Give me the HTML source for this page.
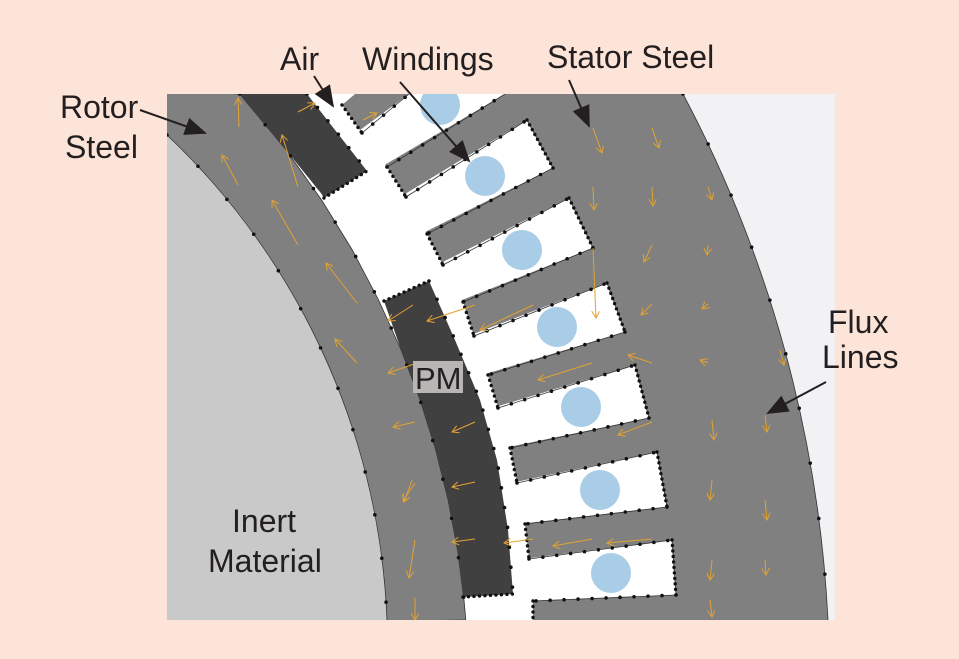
<!DOCTYPE html>
<html><head><meta charset="utf-8"><style>
html,body{margin:0;padding:0;background:#fce4d8;}
svg{display:block;}
text{font-family:"Liberation Sans",Arial,sans-serif;fill:#231f20;}
</style></head><body>
<svg width="959" height="659" viewBox="0 0 959 659" xmlns="http://www.w3.org/2000/svg">
<defs>
<marker id="oa" markerWidth="8" markerHeight="8" refX="7" refY="4" orient="auto" markerUnits="userSpaceOnUse"><path d="M0,0 L7,4 L0,8" fill="none" stroke="#e3a232" stroke-width="1"/></marker>
<marker id="ba" markerWidth="22" markerHeight="18" refX="20" refY="9" orient="auto" markerUnits="userSpaceOnUse"><path d="M0,0 L22,9 L0,18 z" fill="#231f20"/></marker>
<clipPath id="fr"><rect x="167" y="94" width="668" height="526"/></clipPath>
</defs>
<rect width="959" height="659" fill="#fce4d8"/>
<g clip-path="url(#fr)">
<rect x="167" y="94" width="668" height="526" fill="#7f807f"/>
<path d="M683,94 A1255,1255 0 0 1 828,620 L840,620 L840,94 Z" fill="#f2f2f5"/>
<path d="M683,94 A1255,1255 0 0 1 828,620" fill="none" stroke="#333" stroke-width="0.8"/>
<!-- air gap -->
<path d="M239.7,94 L286.1,150 L321.6,200 L352.3,250 L378.6,300 L401.1,350 L420.1,400 L435.7,450 L448.1,500 L457.5,550 L464,600 L465.8,620 L533,620 L533,601 L529,559 L525,524 L517,483 L510,448 L498,408 L488,375 L474,336 L463,302 L443,265 L427,234 L406,197 L387,167 L362,133 L342,105 L355,94 Z" fill="#fff"/>
<!-- slots (extended left to overlap air gap) -->
<g fill="#fff">
<path d="M356,133 L409,94 L505,94 L381,167 Z"/>
<path d="M400,197 L527,120 L553,168 L421,234 Z"/>
<path d="M437,265 L569,198 L593,248 L457,302 Z"/>
<path d="M468,336 L607,283 L625,332 L482,375 Z"/>
<path d="M492,408 L635,365 L649,418 L504,448 Z"/>
<path d="M511,483 L657,452 L667,507 L519,524 Z"/>
<path d="M523,559 L672,540 L676,595 L527,601 Z"/>
</g>
<g fill="none" stroke="#333" stroke-width="0.8">
<path d="M362,133 L409,94 M505,94 L387,167"/>
<path d="M406,197 L527,120 L553,168 L427,234"/>
<path d="M443,265 L569,198 L593,248 L463,302"/>
<path d="M474,336 L607,283 L625,332 L488,375"/>
<path d="M498,408 L635,365 L649,418 L510,448"/>
<path d="M517,483 L657,452 L667,507 L525,524"/>
<path d="M529,559 L672,540 L676,595 L533,601"/>
</g>
<!-- rotor -->
<path d="M160,90 L239.7,94 L286.1,150 L321.6,200 L352.3,250 L378.6,300 L401.1,350 L420.1,400 L435.7,450 L448.1,500 L457.5,550 L464,600 L465.8,620 L160,625 Z" fill="#7f807f" stroke="#333" stroke-width="0.8"/>
<path d="M167,135 A708,708 0 0 1 387,620 L160,625 L160,130 Z" fill="#c9c9c9"/>
<path d="M167,135 A708,708 0 0 1 387,620" fill="none" stroke="#333" stroke-width="0.8"/>
<!-- PMs -->
<path d="M239.7,94 L286.1,150 L321.6,194 L324,198 L367,171 L307,94 Z" fill="#404040"/>
<path d="M384,301 L401.1,350 L420.1,400 L435.7,450 L448.1,500 L457.5,550 L463,597 L513,594 L508,530 L497,460 L480,400 L455,340 L429,281 Z" fill="#404040"/>
<!-- windings -->
<g fill="#a9cde6">
<circle cx="440" cy="105" r="20"/><circle cx="485" cy="176" r="20"/><circle cx="522" cy="250" r="20"/>
<circle cx="557" cy="327" r="20"/><circle cx="581" cy="407" r="20"/><circle cx="600" cy="490" r="20"/><circle cx="611" cy="573" r="20"/>
</g>
<!-- dots long -->
<g fill="none" stroke="#111" stroke-width="3.6" stroke-linecap="round" stroke-dasharray="0 14">
<path d="M362,133 L409,94 M387,167 L505,94"/>
<path d="M406,197 L527,120 M553,168 L427,234"/>
<path d="M443,265 L569,198 M593,248 L463,302"/>
<path d="M474,336 L607,283 M625,332 L488,375"/>
<path d="M498,408 L635,365 M649,418 L510,448"/>
<path d="M517,483 L657,452 M667,507 L525,524"/>
<path d="M529,559 L672,540 M676,595 L533,601"/>
<path d="M429,281 L455,340 L480,400 L497,460 L508,530 L513,594" stroke-dasharray="0 20"/>
<path d="M307,94 L367,171" stroke-dasharray="0 17"/>
</g>
<!-- dots dense -->
<g fill="none" stroke="#111" stroke-width="3.4" stroke-linecap="round" stroke-dasharray="0 5.5">
<path d="M527,120 L553,168 M569,198 L593,248 M607,283 L625,332 M635,365 L649,418 M657,452 L667,507 M672,540 L676,595"/>
<path d="M342,105 L362,133 M387,167 L406,197 M427,234 L443,265 M463,302 L474,336 M488,375 L498,408 M510,448 L517,483 M525,524 L529,559 M533,601 L533,620"/>
<path d="M324,198 L367,171 M384,301 L429,281 M463,597 L513,594"/>
</g>
<g fill="none" stroke="#111" stroke-width="3.6" stroke-linecap="round">
<path d="M239.7,94 L286.1,150 L321.6,200 L352.3,250 L378.6,300 L401.1,350 L420.1,400 L435.7,450 L448.1,500 L457.5,550 L464,600 L465.8,620" stroke-dasharray="0 40"/>
<path d="M167,135 A708,708 0 0 1 387,620" stroke-dasharray="0 44"/>
<path d="M683,94 A1255,1255 0 0 1 828,620" stroke-dasharray="0 56"/>
</g>
<!-- flux arrows -->
<g stroke="#e3a232" stroke-width="1" fill="none" marker-end="url(#oa)">
<path d="M239,127 L238,98"/><path d="M238,185 L222,155"/><path d="M298,245 L272,200"/><path d="M298,187 L282,135"/>
<path d="M357,303 L326,263"/><path d="M357,363 L335,339"/><path d="M417,363 L388,373"/><path d="M415,422 L393,427"/>
<path d="M415,483 L403,501"/><path d="M415,540 L409,578"/><path d="M415,598 L415,620"/>
<path d="M475,422 L452,432"/><path d="M475,482 L452,487"/><path d="M475,539 L452,542"/><path d="M412,480 L404,502"/>
<path d="M533,305 L480,330"/><path d="M592,363 L538,380"/><path d="M652,422 L618,435"/><path d="M592,539 L553,546"/>
<path d="M652,539 L607,543"/><path d="M533,539 L504,543"/><path d="M652,363 L628,355"/><path d="M475,305 L427,321"/>
<path d="M413,305 L388,321"/><path d="M593,128 L602,153"/><path d="M652,128 L659,148"/><path d="M593,187 L594,210"/>
<path d="M652,187 L653,206"/><path d="M708,187 L712,200"/><path d="M652,245 L644,262"/><path d="M708,245 L707,255"/>
<path d="M593,248 L596,318"/><path d="M652,304 L641,315"/><path d="M708,304 L702,309"/><path d="M708,363 L700,360"/>
<path d="M298,112 L315,103"/><path d="M363,120 L377,113"/><path d="M712,420 L714,440"/><path d="M765,415 L767,432"/>
<path d="M712,480 L710,500"/><path d="M765,500 L767,520"/><path d="M712,560 L710,580"/><path d="M765,560 L766,575"/>
<path d="M710,600 L712,617"/><path d="M780,350 L784,365"/>
</g>
</g>
<!-- PM label -->
<rect x="413" y="361" width="50" height="32" fill="#bab5b5"/>
<text x="415" y="389" font-size="31">PM</text>
<!-- labels -->
<text x="280" y="70" font-size="32">Air</text>
<text x="362" y="70" font-size="32">Windings</text>
<text x="547" y="68" font-size="32">Stator Steel</text>
<text x="60" y="118" font-size="32">Rotor</text>
<text x="65" y="158" font-size="32">Steel</text>
<text x="828" y="333" font-size="32">Flux</text>
<text x="822" y="368" font-size="32">Lines</text>
<text x="232" y="532" font-size="32">Inert</text>
<text x="208" y="572" font-size="32">Material</text>
<!-- leaders -->
<g stroke="#231f20" stroke-width="2" fill="none" marker-end="url(#ba)">
<path d="M140,110 L205,133"/>
<path d="M314,76 L333,106"/>
<path d="M400,82 L469,161"/>
<path d="M569,80 L589,126"/>
<path d="M826,382 L768,413"/>
</g>
</svg>
</body></html>
